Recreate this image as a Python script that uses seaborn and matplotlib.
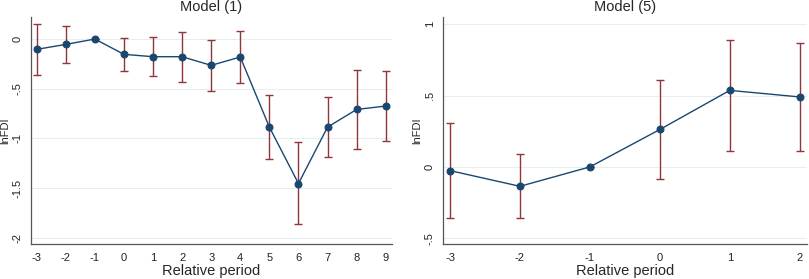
import matplotlib
matplotlib.use("Agg")
import matplotlib.pyplot as plt
import pandas as pd
import seaborn as sns

# ---- data ----
periods_1 = [-3, -2, -1, 0, 1, 2, 3, 4, 5, 6, 7, 8, 9]
coef_1 = [-0.104, -0.054, 0.0, -0.154, -0.178, -0.178, -0.265, -0.181,
          -0.887, -1.455, -0.887, -0.709, -0.675]
ci_hi_1 = [0.151, 0.131, 0.0, 0.007, 0.017, 0.074, -0.010, 0.081,
           -0.561, -1.041, -0.588, -0.309, -0.323]
ci_lo_1 = [-0.366, -0.242, 0.0, -0.320, -0.376, -0.433, -0.524, -0.440,
           -1.213, -1.865, -1.192, -1.109, -1.028]

periods_5 = [-3, -2, -1, 0, 1, 2]
coef_5 = [-0.026, -0.136, 0.0, 0.262, 0.536, 0.490]
ci_hi_5 = [0.309, 0.089, 0.0, 0.606, 0.889, 0.868]
ci_lo_5 = [-0.358, -0.358, 0.0, -0.087, 0.114, 0.114]

yticks_1 = [0, -0.5, -1, -1.5, -2]
ylabels_1 = ["0", "-.5", "-1", "-1.5", "-2"]
yticks_5 = [1, 0.5, 0, -0.5]
ylabels_5 = ["1", ".5", "0", "-.5"]

NAVY = "#1a476f"
MAROON = "#90353b"
GRID = "#e6eef0"
SPINE = "#555555"

sns.set_theme(style="white")
plt.rcParams["font.family"] = ["Liberation Sans", "DejaVu Sans"]

fig = plt.figure(figsize=(8.09, 2.79), dpi=100)
ax1 = fig.add_axes([0.0383, 0.1244, 0.4459, 0.8147])
ax2 = fig.add_axes([0.548, 0.1244, 0.4496, 0.8147])


def draw_panel(ax, periods, coef, lo, hi, title, yticks, ylabels, xlim, ylim):
    df = pd.DataFrame({"period": periods, "coef": coef, "lo": lo, "hi": hi})
    for t in yticks:
        ax.axhline(t, color=GRID, lw=0.8, zorder=0)
    # confidence intervals
    err = [df["coef"] - df["lo"], df["hi"] - df["coef"]]
    ax.errorbar(df["period"], df["coef"], yerr=err, fmt="none",
                ecolor=MAROON, elinewidth=1.0, capsize=3, capthick=1.0, zorder=2)
    sns.lineplot(data=df, x="period", y="coef", ax=ax, color=NAVY, lw=1.0,
                 marker="o", markersize=5, markeredgecolor=NAVY,
                 markerfacecolor=NAVY, zorder=3)
    ax.set_xlim(*xlim)
    ax.set_ylim(*ylim)
    ax.set_xticks(periods)
    ax.set_xticklabels([str(p) for p in periods], fontsize=8)
    ax.set_yticks(yticks)
    ax.set_yticklabels(ylabels, fontsize=8, rotation=90, va="center")
    ax.set_title(title, fontsize=10.5, pad=4)
    ax.set_xlabel("Relative period", fontsize=10.5, labelpad=1)
    ax.set_ylabel("lnFDI", fontsize=8, labelpad=2)
    for s in ["top", "right"]:
        ax.spines[s].set_visible(False)
    for s in ["left", "bottom"]:
        ax.spines[s].set_color(SPINE)
        ax.spines[s].set_linewidth(0.9)
    ax.tick_params(axis="both", direction="out", length=4, width=0.8,
                   color=SPINE, labelcolor="#222222", pad=2)
    ax.grid(False)


draw_panel(ax1, periods_1, coef_1, ci_lo_1, ci_hi_1, "Model (1)",
           yticks_1, ylabels_1, (-3.196, 9.206), (-2.067, 0.222))
draw_panel(ax2, periods_5, coef_5, ci_lo_5, ci_hi_5, "Model (5)",
           yticks_5, ylabels_5, (-3.096, 2.105), (-0.542, 1.05))

plt.savefig("out.png", dpi=100)
